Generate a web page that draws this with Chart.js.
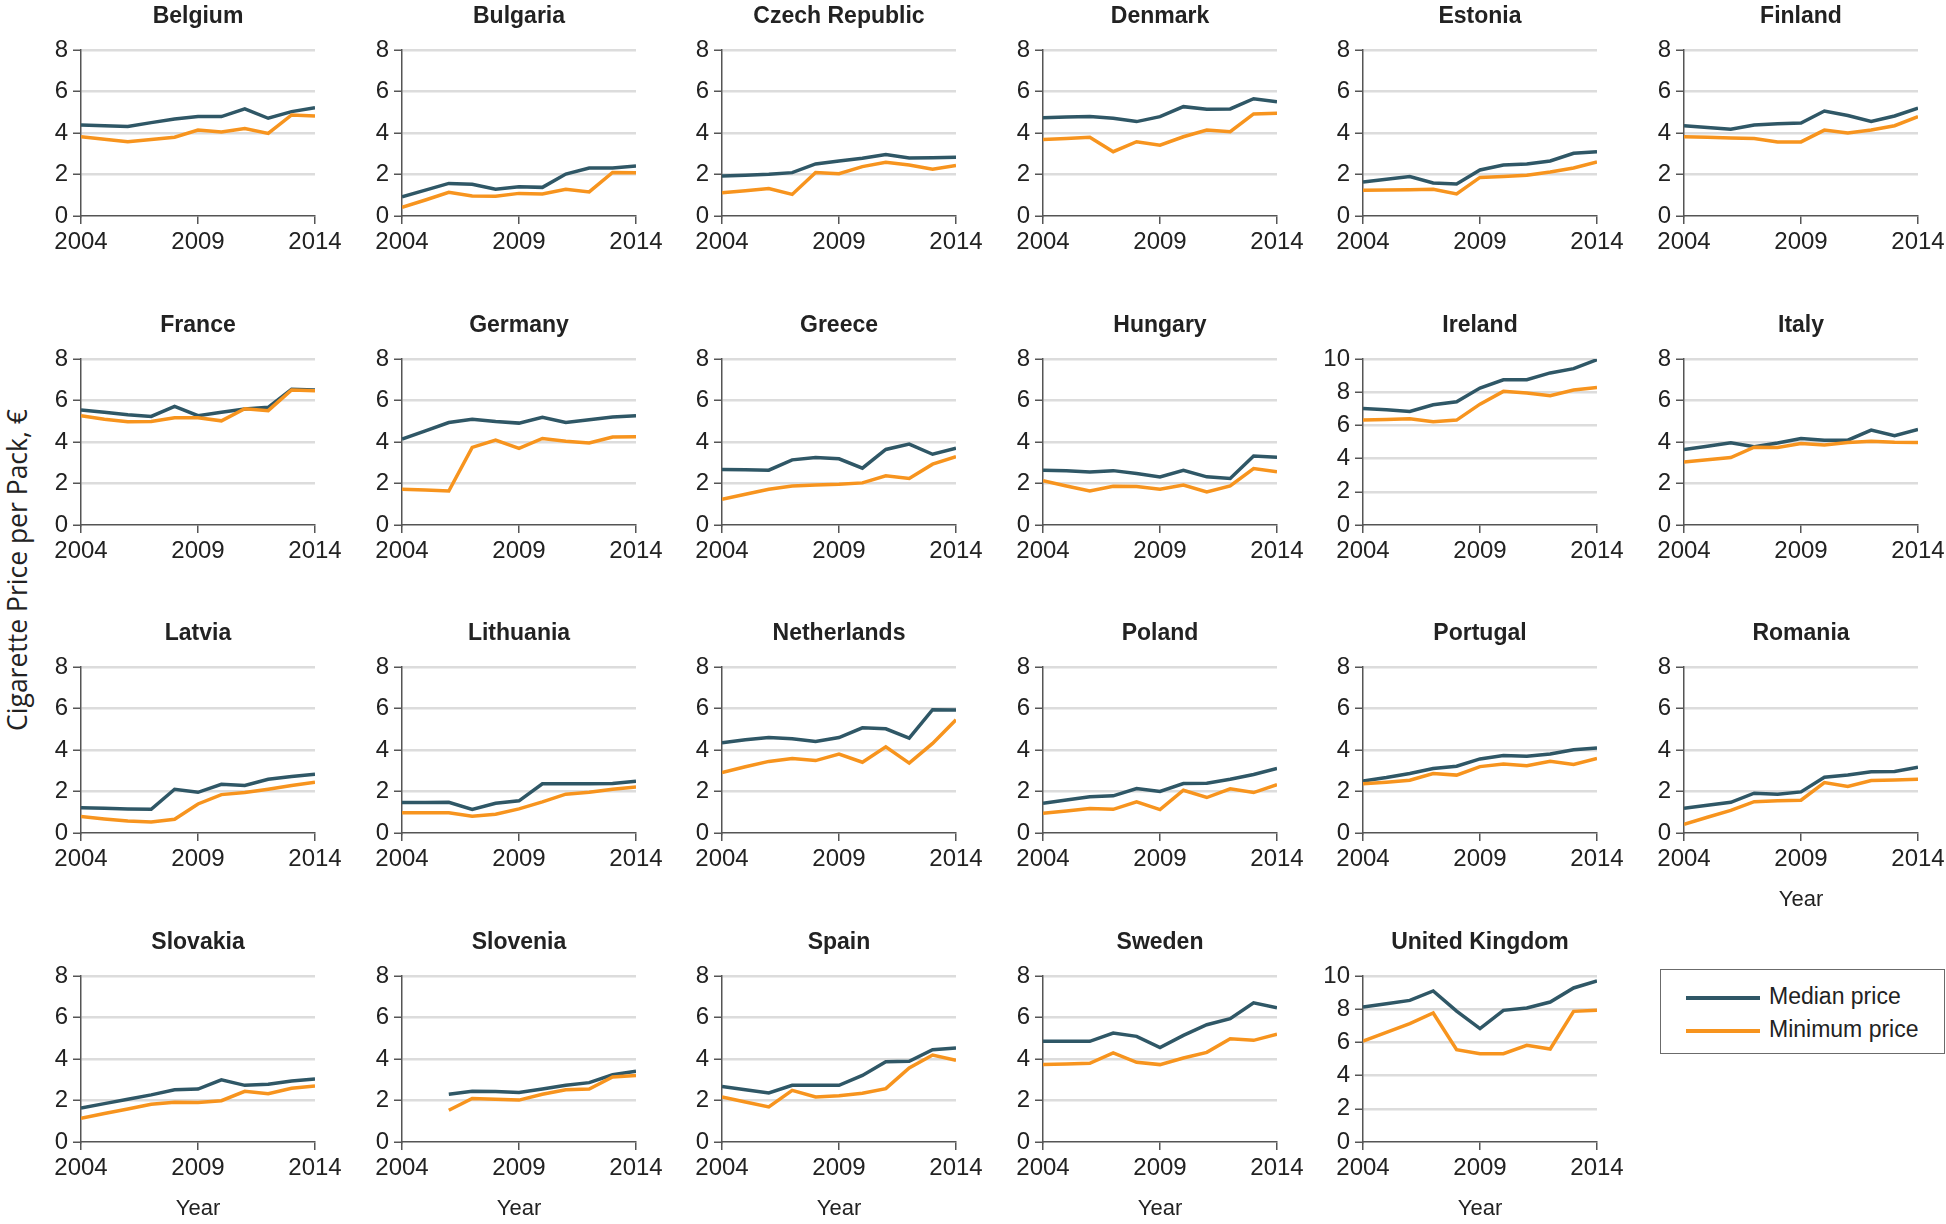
<!DOCTYPE html>
<html>
<head>
<meta charset="utf-8">
<title>Cigarette prices per pack, 2004-2014</title>
<script src="https://cdn.jsdelivr.net/npm/chart.js@4.4.1/dist/chart.umd.min.js"></script>
<style>
    html, body { margin: 0; padding: 0; background: #fff; }
    #page { position: relative; width: 1946px; height: 1224px; overflow: hidden; }
    .panel { position: absolute; }
    #yTitle {
        position: absolute; left: -183px; top: 555px; width: 400px; height: 30px;
        line-height: 30px; text-align: center; transform: rotate(-90deg);
        font-family: 'Open Sans', 'Noto Sans', sans-serif; font-size: 26.5px; color: #222;
    }
    #legend {
        position: absolute; left: 1660px; top: 969px; width: 283px; height: 83px;
        border: 1.5px solid #6b6b6b; font-family: 'Liberation Sans', Arial, sans-serif;
        font-size: 23px; color: #222;
    }
    #legend .row { position: absolute; left: 25px; height: 30px; line-height: 30px; white-space: nowrap; }
    #legend .swatch { display: inline-block; width: 74px; height: 4px; vertical-align: middle; margin-right: 9px; }
</style>
</head>
<body>
<div id="page">
    <div id="yTitle">Cigarette Price per Pack, €</div>
    <div id="legend">
        <div class="row" style="top: 11px;"><span class="swatch" style="background:#2f5766"></span>Median price</div>
        <div class="row" style="top: 44px;"><span class="swatch" style="background:#f7941e"></span>Minimum price</div>
    </div>
</div>
<script>
// Years on the x axis and the labelled ticks
const years = [2004, 2005, 2006, 2007, 2008, 2009, 2010, 2011, 2012, 2013, 2014];
const xTickYears = [2004, 2009, 2014];

// Median / minimum price per pack (EUR)
const belgiumMedian   = [4.39, 4.35, 4.31, 4.50, 4.67, 4.80, 4.79, 5.16, 4.71, 5.03, 5.22];
const belgiumMinimum  = [3.82, 3.70, 3.58, 3.69, 3.80, 4.14, 4.05, 4.22, 3.98, 4.87, 4.82];
const bulgariaMedian  = [0.93, 1.25, 1.57, 1.53, 1.29, 1.41, 1.38, 2.02, 2.31, 2.31, 2.41];
const bulgariaMinimum = [0.42, 0.77, 1.14, 0.96, 0.95, 1.09, 1.06, 1.29, 1.16, 2.10, 2.09];
const czechMedian     = [1.93, 1.96, 2.01, 2.09, 2.51, 2.65, 2.78, 2.96, 2.80, 2.81, 2.83];
const czechMinimum    = [1.12, 1.22, 1.32, 1.04, 2.10, 2.04, 2.38, 2.59, 2.46, 2.25, 2.43];
const denmarkMedian   = [4.74, 4.77, 4.79, 4.71, 4.55, 4.79, 5.27, 5.14, 5.16, 5.65, 5.51];
const denmarkMinimum  = [3.69, 3.74, 3.79, 3.10, 3.58, 3.41, 3.82, 4.14, 4.06, 4.92, 4.95];
const estoniaMedian   = [1.64, 1.77, 1.90, 1.59, 1.54, 2.22, 2.46, 2.51, 2.65, 3.02, 3.10];
const estoniaMinimum  = [1.24, 1.25, 1.27, 1.29, 1.06, 1.86, 1.90, 1.96, 2.12, 2.31, 2.60];
const finlandMedian   = [4.35, 4.27, 4.18, 4.39, 4.45, 4.48, 5.06, 4.84, 4.56, 4.82, 5.20];
const finlandMinimum  = [3.82, 3.79, 3.76, 3.73, 3.57, 3.57, 4.14, 4.00, 4.14, 4.35, 4.79];
const franceMedian    = [5.54, 5.43, 5.31, 5.23, 5.72, 5.27, 5.43, 5.59, 5.67, 6.54, 6.51];
const franceMinimum   = [5.27, 5.10, 4.98, 4.99, 5.17, 5.17, 5.02, 5.60, 5.51, 6.51, 6.47];
const germanyMedian   = [4.14, 4.54, 4.94, 5.10, 4.99, 4.91, 5.19, 4.94, 5.07, 5.20, 5.27];
const germanyMinimum  = [1.72, 1.69, 1.64, 3.74, 4.09, 3.69, 4.17, 4.04, 3.95, 4.24, 4.25];
const greeceMedian    = [2.67, 2.66, 2.64, 3.14, 3.25, 3.19, 2.74, 3.64, 3.90, 3.41, 3.70];
const greeceMinimum   = [1.24, 1.48, 1.72, 1.88, 1.93, 1.96, 2.03, 2.37, 2.24, 2.93, 3.29];
const hungaryMedian   = [2.64, 2.61, 2.56, 2.62, 2.48, 2.32, 2.64, 2.32, 2.24, 3.32, 3.27];
const hungaryMinimum  = [2.13, 1.88, 1.64, 1.87, 1.85, 1.72, 1.93, 1.59, 1.88, 2.72, 2.56];
const irelandMedian   = [7.02, 6.94, 6.84, 7.24, 7.42, 8.25, 8.75, 8.75, 9.16, 9.42, 9.96];
const irelandMinimum  = [6.32, 6.36, 6.40, 6.22, 6.32, 7.28, 8.05, 7.95, 7.79, 8.13, 8.29];
const italyMedian     = [3.64, 3.80, 3.96, 3.77, 3.95, 4.17, 4.09, 4.09, 4.57, 4.30, 4.60];
const italyMinimum    = [3.04, 3.14, 3.25, 3.75, 3.74, 3.93, 3.86, 3.98, 4.04, 3.99, 3.98];
const latviaMedian    = [1.22, 1.19, 1.16, 1.14, 2.11, 1.96, 2.35, 2.29, 2.59, 2.72, 2.83];
const latviaMinimum   = [0.79, 0.68, 0.58, 0.53, 0.66, 1.40, 1.85, 1.95, 2.11, 2.29, 2.45];
const lithuaniaMedian = [1.47, 1.47, 1.48, 1.14, 1.43, 1.55, 2.37, 2.37, 2.37, 2.38, 2.50];
const lithuaniaMinimum = [0.97, 0.98, 0.98, 0.81, 0.90, 1.16, 1.50, 1.87, 1.96, 2.11, 2.22];
const netherlandsMedian  = [4.35, 4.49, 4.60, 4.54, 4.41, 4.60, 5.07, 5.02, 4.57, 5.94, 5.93];
const netherlandsMinimum = [2.91, 3.19, 3.45, 3.59, 3.49, 3.80, 3.41, 4.15, 3.37, 4.32, 5.46];
const polandMedian    = [1.43, 1.59, 1.75, 1.79, 2.14, 2.00, 2.38, 2.40, 2.59, 2.82, 3.11];
const polandMinimum   = [0.95, 1.06, 1.18, 1.14, 1.50, 1.13, 2.06, 1.71, 2.13, 1.95, 2.33];
const portugalMedian  = [2.50, 2.67, 2.87, 3.11, 3.22, 3.57, 3.73, 3.70, 3.81, 4.01, 4.10];
const portugalMinimum = [2.37, 2.45, 2.54, 2.87, 2.79, 3.20, 3.32, 3.24, 3.46, 3.30, 3.59];
const romaniaMedian   = [1.19, 1.34, 1.48, 1.92, 1.87, 1.98, 2.69, 2.79, 2.95, 2.96, 3.17];
const romaniaMinimum  = [0.42, 0.76, 1.09, 1.51, 1.56, 1.58, 2.43, 2.24, 2.53, 2.56, 2.59];
const slovakiaMedian  = [1.64, 1.85, 2.06, 2.27, 2.52, 2.55, 3.00, 2.73, 2.78, 2.94, 3.04];
const slovakiaMinimum = [1.14, 1.37, 1.59, 1.82, 1.91, 1.90, 1.99, 2.44, 2.33, 2.59, 2.70];
const sloveniaMedian  = [null, null, 2.30, 2.44, 2.43, 2.39, 2.55, 2.73, 2.86, 3.24, 3.41];
const sloveniaMinimum = [null, null, 1.53, 2.10, 2.06, 2.02, 2.30, 2.52, 2.55, 3.13, 3.21];
const spainMedian     = [2.68, 2.52, 2.36, 2.73, 2.73, 2.73, 3.21, 3.87, 3.89, 4.45, 4.53];
const spainMinimum    = [2.17, 1.93, 1.69, 2.49, 2.17, 2.23, 2.35, 2.57, 3.57, 4.19, 3.94];
const swedenMedian    = [4.85, 4.85, 4.85, 5.25, 5.09, 4.55, 5.14, 5.65, 5.94, 6.71, 6.47];
const swedenMinimum   = [3.73, 3.76, 3.79, 4.29, 3.84, 3.73, 4.05, 4.32, 4.98, 4.90, 5.19];
const ukMedian        = [8.13, 8.33, 8.53, 9.10, 7.89, 6.83, 7.93, 8.07, 8.43, 9.28, 9.70];
const ukMinimum       = [6.08, 6.60, 7.13, 7.77, 5.56, 5.32, 5.32, 5.82, 5.60, 7.87, 7.93];

// y axis ranges
const yMaxDefault = 8;
const yMaxHigh = 10;
const yStep = 2;

// [title, median, minimum, yMax, show "Year" label]
const panels = [
    ['Belgium', belgiumMedian, belgiumMinimum, yMaxDefault, false],
    ['Bulgaria', bulgariaMedian, bulgariaMinimum, yMaxDefault, false],
    ['Czech Republic', czechMedian, czechMinimum, yMaxDefault, false],
    ['Denmark', denmarkMedian, denmarkMinimum, yMaxDefault, false],
    ['Estonia', estoniaMedian, estoniaMinimum, yMaxDefault, false],
    ['Finland', finlandMedian, finlandMinimum, yMaxDefault, false],
    ['France', franceMedian, franceMinimum, yMaxDefault, false],
    ['Germany', germanyMedian, germanyMinimum, yMaxDefault, false],
    ['Greece', greeceMedian, greeceMinimum, yMaxDefault, false],
    ['Hungary', hungaryMedian, hungaryMinimum, yMaxDefault, false],
    ['Ireland', irelandMedian, irelandMinimum, yMaxHigh, false],
    ['Italy', italyMedian, italyMinimum, yMaxDefault, false],
    ['Latvia', latviaMedian, latviaMinimum, yMaxDefault, false],
    ['Lithuania', lithuaniaMedian, lithuaniaMinimum, yMaxDefault, false],
    ['Netherlands', netherlandsMedian, netherlandsMinimum, yMaxDefault, false],
    ['Poland', polandMedian, polandMinimum, yMaxDefault, false],
    ['Portugal', portugalMedian, portugalMinimum, yMaxDefault, false],
    ['Romania', romaniaMedian, romaniaMinimum, yMaxDefault, true],
    ['Slovakia', slovakiaMedian, slovakiaMinimum, yMaxDefault, true],
    ['Slovenia', sloveniaMedian, sloveniaMinimum, yMaxDefault, true],
    ['Spain', spainMedian, spainMinimum, yMaxDefault, true],
    ['Sweden', swedenMedian, swedenMinimum, yMaxDefault, true],
    ['United Kingdom', ukMedian, ukMinimum, yMaxHigh, true]
];

const MEDIAN_COLOR = '#2f5766';
const MINIMUM_COLOR = '#f7941e';
const AXIS_COLOR = '#555555';
const GRID_COLOR = '#dcdcdc';
const TEXT_COLOR = '#222222';
const FONT = "'Liberation Sans', Arial, sans-serif";

// grid geometry (plot area of the first panel, pitch between panels)
const PLOT_LEFT = 81, COL_PITCH = 320.6, PLOT_W = 234;
const PLOT_TOP = 50, ROW_PITCH = 308.6, PLOT_H = 166;
const PAD_L = 64, PAD_R = 64, TITLE_H = 50, XAXIS_H = 80;
const TITLE_SIZE = 23, TICK_SIZE = 24, YEAR_SIZE = 22;
const TITLE_PAD_TOP = 17 - TITLE_SIZE / 2;

Chart.defaults.font.family = FONT;
Chart.defaults.color = TEXT_COLOR;

function createPanel(index, [title, median, minimum, yMax, showYear]) {
    const col = index % 6;
    const row = Math.floor(index / 6);
    const w = PAD_L + PLOT_W + PAD_R;
    const h = TITLE_H + PLOT_H + XAXIS_H;

    const holder = document.createElement('div');
    holder.className = 'panel';
    holder.style.left = Math.round(PLOT_LEFT + col * COL_PITCH - PAD_L) + 'px';
    holder.style.top = Math.round(PLOT_TOP + row * ROW_PITCH - TITLE_H) + 'px';
    const canvas = document.createElement('canvas');
    canvas.width = w;
    canvas.height = h;
    canvas.style.width = w + 'px';
    canvas.style.height = h + 'px';
    holder.appendChild(canvas);
    document.getElementById('page').appendChild(holder);

    return new Chart(canvas.getContext('2d'), {
        type: 'line',
        data: {
            labels: years,
            datasets: [
                {
                    label: 'Minimum price',
                    data: minimum,
                    borderColor: MINIMUM_COLOR,
                    borderWidth: 3.5,
                    pointRadius: 0,
                    tension: 0,
                    order: 0
                },
                {
                    label: 'Median price',
                    data: median,
                    borderColor: MEDIAN_COLOR,
                    borderWidth: 3.5,
                    pointRadius: 0,
                    tension: 0,
                    order: 1
                }
            ]
        },
        options: {
            responsive: false,
            animation: false,
            layout: { padding: { left: 0, right: PAD_R, top: 0, bottom: 0 } },
            plugins: {
                legend: { display: false },
                tooltip: { enabled: false },
                title: {
                    display: true,
                    text: title,
                    fullSize: false,
                    color: TEXT_COLOR,
                    font: { size: TITLE_SIZE, weight: 'bold', lineHeight: 1 },
                    padding: { top: TITLE_PAD_TOP, bottom: TITLE_H - TITLE_PAD_TOP - TITLE_SIZE }
                }
            },
            scales: {
                x: {
                    type: 'linear',
                    min: years[0],
                    max: years[years.length - 1],
                    afterBuildTicks: s => { s.ticks = xTickYears.map(v => ({ value: v })); },
                    afterFit: s => { s.height = XAXIS_H; },
                    ticks: {
                        callback: v => String(v),
                        font: { size: TICK_SIZE },
                        color: TEXT_COLOR,
                        padding: 4,
                        maxRotation: 0,
                        autoSkip: false
                    },
                    grid: {
                        drawOnChartArea: false,
                        drawTicks: true,
                        tickLength: 8,
                        tickColor: AXIS_COLOR,
                        lineWidth: 1.5
                    },
                    border: { display: true, color: AXIS_COLOR, width: 1.5 },
                    title: {
                        display: showYear,
                        text: 'Year',
                        font: { size: YEAR_SIZE },
                        color: TEXT_COLOR,
                        padding: { top: 0, bottom: 0 }
                    }
                },
                y: {
                    min: 0,
                    max: yMax,
                    afterFit: s => { s.width = PAD_L; },
                    ticks: {
                        stepSize: yStep,
                        autoSkip: false,
                        font: { size: TICK_SIZE },
                        color: TEXT_COLOR,
                        padding: 5
                    },
                    grid: {
                        color: c => (c.tick && c.tick.value === 0 ? 'rgba(0,0,0,0)' : GRID_COLOR),
                        lineWidth: 2.5,
                        tickColor: AXIS_COLOR,
                        tickWidth: 1.5,
                        tickLength: 8
                    },
                    border: { display: true, color: AXIS_COLOR, width: 1.5 }
                }
            }
        }
    });
}

panels.forEach((p, i) => createPanel(i, p));
</script>
</body>
</html>
